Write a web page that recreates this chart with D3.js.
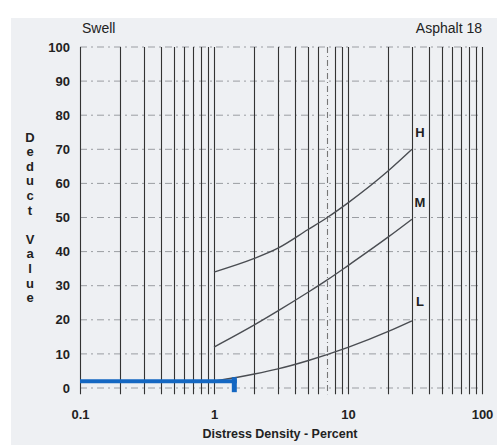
<!DOCTYPE html>
<html>
<head>
<meta charset="utf-8">
<script src="https://cdn.jsdelivr.net/npm/d3@7"></script>
<style>
  html, body { margin: 0; padding: 0; background: #ffffff; }
  svg { display: block; }
  text { font-family: "Liberation Sans", Arial, sans-serif; fill: #222; }
</style>
</head>
<body>
<svg id="chart" width="497" height="445"></svg>
<script>
// Swell deduct curves, asphalt pavement, by severity level
const densityH = [1, 2, 3, 5, 7, 10, 20, 30];
const deductH  = [34, 38, 41, 46.4, 50, 54.3, 63.7, 70];
const densityM = [1, 2, 3, 5, 7, 10, 20, 30];
const deductM  = [12, 18.5, 22.6, 28, 31.7, 35.9, 44.3, 49.5];
const densityL = [1, 2, 3, 5, 10, 20, 30];
const deductL  = [2, 4.1, 5.6, 8, 11.9, 16.6, 19.7];

const xTicks = [0.1, 1, 10, 100];
const yTicks = [0, 10, 20, 30, 40, 50, 60, 70, 80, 90, 100];

// highlighted reading: density -> deduct value
const markDensity = 1.48;
const markDeduct = 2;

const svg = d3.select("#chart");

// paper background
svg.append("rect").attr("x", 11).attr("y", 18).attr("width", 486).attr("height", 427)
  .attr("fill", "#eef0f3");

const x = d3.scaleLog().domain([0.1, 100]).range([80, 482]);
const y = d3.scaleLinear().domain([0, 100]).range([388, 47]);

// horizontal grid (dashed)
svg.append("g").selectAll("line").data(yTicks).join("line")
  .attr("x1", x(0.1)).attr("x2", x(100))
  .attr("y1", d => y(d)).attr("y2", d => y(d))
  .attr("stroke", "#9a9da2").attr("stroke-width", 1)
  .attr("stroke-dasharray", "7,4,2,4");

// vertical log grid: 1..9 within each decade
const vLines = [];
[0.1, 1, 10].forEach(dec => {
  for (let k = 1; k <= 9; k++) vLines.push(+(dec * k).toPrecision(3));
});
vLines.push(100);

svg.append("g").selectAll("line").data(vLines).join("line")
  .attr("x1", d => Math.round(x(d)) + 0.5).attr("x2", d => Math.round(x(d)) + 0.5)
  .attr("y1", y(100)).attr("y2", y(-1.8))
  .attr("stroke", d => d === 7 ? "#777" : "#333")
  .attr("stroke-width", 1.1)
  .attr("stroke-dasharray", d => d === 7 ? "6,3,1,3" : null);

// curves
const line = d3.line().x(d => x(d[0])).y(d => y(d[1])).curve(d3.curveMonotoneX);
const series = [
  { key: "H", dens: densityH, vals: deductH },
  { key: "M", dens: densityM, vals: deductM },
  { key: "L", dens: densityL, vals: deductL }
];
svg.append("g").selectAll("path").data(series).join("path")
  .attr("d", s => line(s.dens.map((d, i) => [d, s.vals[i]])))
  .attr("fill", "none").attr("stroke", "#4a4d52").attr("stroke-width", 1.4);

// severity labels at end of each curve
const labelY = { H: 75, M: 54.5, L: 25.5 };
svg.append("g").selectAll("text").data(series).join("text")
  .attr("x", s => x(s.dens[s.dens.length - 1]) + 8)
  .attr("y", s => y(labelY[s.key]))
  .attr("dy", "0.35em")
  .attr("text-anchor", "middle")
  .attr("font-size", 13).attr("font-weight", "bold")
  .text(s => s.key);

// y axis labels
const yAxis = d3.axisLeft(y).tickValues(yTicks).tickSize(0).tickPadding(10);
const gy = svg.append("g").attr("transform", `translate(${x(0.1)},0)`).call(yAxis);
gy.select(".domain").remove();
gy.selectAll("text").attr("font-size", 13).attr("font-weight", "bold")
  .style("font-family", "'Liberation Sans', Arial, sans-serif").attr("fill", "#222");

// x axis labels
const xAxis = d3.axisBottom(x).tickValues(xTicks).tickFormat(d3.format("~g")).tickSize(0).tickPadding(22);
const gx = svg.append("g").attr("transform", `translate(0,${y(0)})`).call(xAxis);
gx.select(".domain").remove();
gx.selectAll("text").attr("font-size", 13).attr("font-weight", "bold")
  .style("font-family", "'Liberation Sans', Arial, sans-serif").attr("fill", "#222");

// axis titles
svg.append("text").attr("x", 280).attr("y", 438).attr("text-anchor", "middle")
  .attr("font-size", 12.5).attr("font-weight", "bold").text("Distress Density - Percent");

const yTitle = "Deduct Value".split("");
svg.append("g").selectAll("text").data(yTitle).join("text")
  .attr("x", 30).attr("y", (c, i) => 137 + i * 14.6).attr("dy", "0.35em")
  .attr("text-anchor", "middle").attr("font-size", 13).attr("font-weight", "bold")
  .text(c => c);

// corner titles
svg.append("text").attr("x", 82).attr("y", 33).attr("font-size", 14).text("Swell");
svg.append("text").attr("x", 482).attr("y", 33).attr("text-anchor", "end")
  .attr("font-size", 14).text("Asphalt 18");

// highlighted reading marker
const blue = "#1467c2";
svg.append("line")
  .attr("x1", x(0.1)).attr("x2", x(markDensity))
  .attr("y1", y(markDeduct)).attr("y2", y(markDeduct))
  .attr("stroke", blue).attr("stroke-width", 4);
svg.append("line")
  .attr("x1", x(markDensity) - 2.5).attr("x2", x(markDensity) - 2.5)
  .attr("y1", y(markDeduct) - 4).attr("y2", y(markDeduct) + 11)
  .attr("stroke", blue).attr("stroke-width", 5);
</script>
</body>
</html>
